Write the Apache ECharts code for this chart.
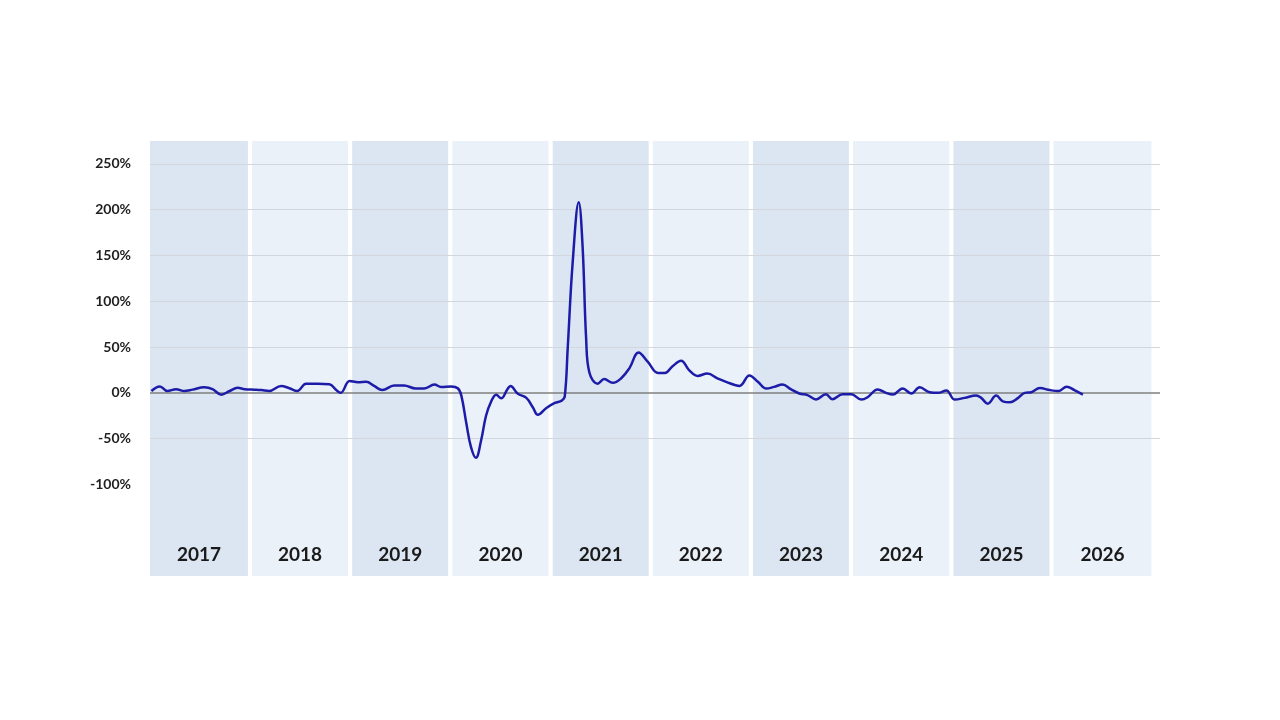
<!DOCTYPE html>
<html>
<head>
<meta charset="utf-8">
<script src="https://cdn.jsdelivr.net/npm/echarts@6/dist/echarts.min.js"></script>
<style>
html,body{margin:0;padding:0;background:#ffffff;}
#chart{width:1280px;height:720px;}
</style>
</head>
<body>
<div id="chart"></div>
<script>
// Year bands (alternating shading) and their labels
const bandYears = [2017, 2018, 2019, 2020, 2021, 2022, 2023, 2024, 2025, 2026];

// Series dates and values (% change)
const dates = [
'2017-01-06','2017-02-06','2017-03-05','2017-04-06','2017-05-06','2017-06-05','2017-07-18','2017-08-17','2017-09-18','2017-10-18','2017-11-17','2017-12-12',
'2018-01-18','2018-02-12','2018-03-11','2018-04-24','2018-05-24','2018-06-22','2018-07-24','2018-09-04','2018-10-17','2018-11-11','2018-11-27','2018-12-30',
'2019-01-29','2019-02-28','2019-03-29','2019-04-28','2019-06-10','2019-07-16','2019-08-28','2019-09-28','2019-11-04','2019-11-28',
'2020-01-04','2020-01-28','2020-02-10','2020-02-28','2020-03-16','2020-04-03','2020-04-22','2020-05-10','2020-05-28','2020-06-16','2020-07-04','2020-07-27','2020-08-07','2020-09-03','2020-10-04','2020-10-28','2020-11-15','2020-12-16',
'2021-01-16','2021-02-10','2021-02-21','2021-03-04','2021-03-22','2021-04-13','2021-04-27','2021-05-10','2021-05-22','2021-06-21','2021-07-15','2021-08-15','2021-09-15','2021-10-15','2021-11-17','2021-12-21',
'2022-01-27','2022-02-21','2022-03-21','2022-04-21','2022-05-21','2022-06-20','2022-07-26','2022-09-02','2022-10-02','2022-11-20','2022-12-26',
'2023-01-26','2023-02-26','2023-03-26','2023-04-26','2023-05-26','2023-06-26','2023-07-26','2023-08-26','2023-10-01','2023-10-25','2023-12-01',
'2024-01-01','2024-02-07','2024-03-01','2024-04-07','2024-05-07','2024-06-01','2024-07-07','2024-08-07','2024-09-07','2024-10-13','2024-11-13','2024-12-13',
'2025-01-13','2025-02-18','2025-04-01','2025-04-19','2025-05-13','2025-06-13','2025-07-07','2025-08-01','2025-09-01','2025-09-25','2025-10-19','2025-11-19','2025-12-25',
'2026-01-25','2026-02-25','2026-03-25','2026-04-25'
];
const values = [
2, 7, 2, 4, 2, 3.5, 6, 4, -2, 2, 5.5, 4,
3.5, 3, 2, 7.5, 5, 2, 10, 10, 9.5, 3, 0, 13,
11.5, 12, 7.5, 3, 8, 8, 4.8, 4.8, 9, 6.5,
7, 5, -3, -33, -59, -71, -52, -25, -10, -2, -6, 4, 7.5, -1, -5.5, -16, -24, -16.5,
-11, -8.5, -4, 50, 143, 208, 160, 59, 22, 10, 15, 11, 16, 27, 44, 33.7,
21.7, 21.7, 29, 35, 24.6, 18.5, 21, 15.6, 12, 7.6, 19,
12, 4.7, 6.5, 9, 4, -0.7, -2.5, -7.2, -1.5, -7, -1.5,
-1.5, -7.4, -4.8, 3.7, 0, -1.9, 4.8, -0.7, 6, 0.7, 0, 2.6,
-7.4, -5.5, -3, -5.5, -11.8, -3, -9.3, -10.4, -5.5, 0, 0.7, 5.2, 3,
1.9, 6.7, 3, -2
];

// Horizontal reference lines
const gridValues = [-50, 50, 100, 150, 200, 250];
const zeroValue = 0;

const chart = echarts.init(document.getElementById('chart'));

const darkBand = '#dce6f2';
const lightBand = '#ebf1f9';

const bandAreas = bandYears.map((y, i) => {
  const start = i === 0 ? y + '-01-01' : y + '-01-08';
  const end = i === bandYears.length - 1 ? y + '-12-31' : y + '-12-24';
  return [
    { name: String(y), xAxis: start, itemStyle: { color: i % 2 === 0 ? darkBand : lightBand } },
    { xAxis: end }
  ];
});

const lineData = dates.map((d, i) => [d, values[i]]);

const option = {
  backgroundColor: '#ffffff',
  animation: false,
  grid: { left: 150, right: 120, top: 141, bottom: 144, containLabel: false },
  xAxis: {
    type: 'time',
    min: '2017-01-01',
    max: '2027-01-31',
    axisLine: { show: false },
    axisTick: { show: false },
    axisLabel: { show: false },
    splitLine: { show: false }
  },
  yAxis: {
    type: 'value',
    min: -200,
    max: 275,
    interval: 50,
    axisLine: { show: false },
    axisTick: { show: false },
    splitLine: { show: false },
    axisLabel: {
      margin: 19,
      fontFamily: 'Lato',
      fontWeight: 'bold',
      fontSize: 14,
      color: '#1f1f1f',
      formatter: v => (v >= -100 && v <= 250) ? v + '%' : ''
    }
  },
  series: [
    {
      type: 'line',
      data: [],
      silent: true,
      z: 1,
      markArea: {
        silent: true,
        z: 1,
        label: {
          show: true,
          position: 'insideBottom',
          distance: 12,
          fontFamily: 'Lato',
          fontWeight: 'bold',
          fontSize: 19,
          color: '#1a1a1a'
        },
        data: bandAreas
      },
      markLine: {
        silent: true,
        z: 2,
        symbol: ['none', 'none'],
        label: { show: false },
        data: gridValues.map(v => ({ yAxis: v, lineStyle: { color: '#d3d7dd', width: 1, type: 'solid' } }))
          .concat([{ yAxis: zeroValue, lineStyle: { color: '#7f7f7f', width: 1.5, type: 'solid' } }])
      }
    },
    {
      type: 'line',
      data: lineData,
      z: 10,
      smooth: 0.4,
      showSymbol: false,
      lineStyle: { color: '#1c1ca8', width: 2.5 },
      itemStyle: { color: '#1c1ca8' }
    }
  ]
};

chart.setOption(option);
</script>
</body>
</html>
